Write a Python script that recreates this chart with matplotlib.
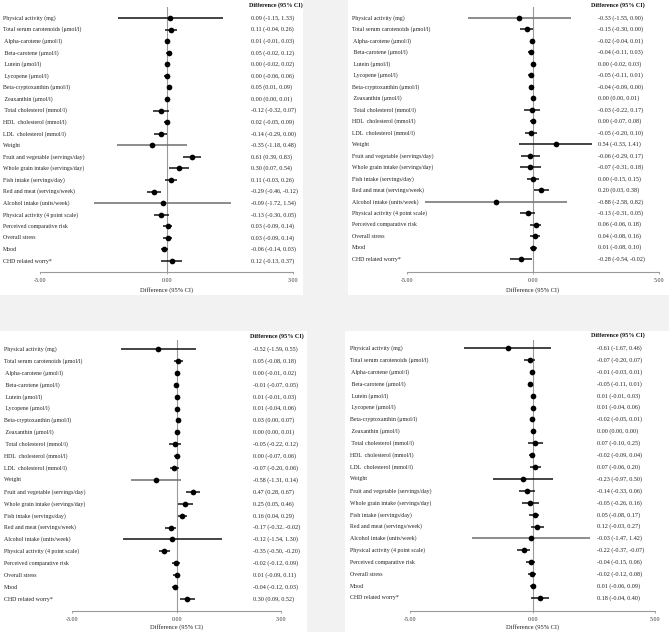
import matplotlib
matplotlib.use("Agg")
import matplotlib.pyplot as plt
from matplotlib import transforms
from matplotlib.patches import Rectangle

# ---------------- data ----------------
labels = [
    "Physical activity (mg)",
    "Total serum carotenoids (\u03bcmol/l)",
    " Alpha-carotene (\u03bcmol/l)",
    " Beta-carotene (\u03bcmol/l)",
    " Lutein (\u03bcmol/l)",
    " Lycopene (\u03bcmol/l)",
    "Beta-cryptoxanthin (\u03bcmol/l)",
    " Zeaxanthin (\u03bcmol/l)",
    " Total cholesterol (mmol/l)",
    "HDL  cholesterol (mmol/l)",
    "LDL  cholesterol (mmol/l)",
    "Weight",
    "Fruit and vegetable (servings/day)",
    "Whole grain intake (servings/day)",
    "Fish intake (servings/day)",
    "Red and meat (servings/week)",
    "Alcohol intake (units/week)",
    "Physical activity (4 point scale)",
    "Perceived comparative risk",
    "Overall stress",
    "Mood",
    "CHD related worry*",
]

tl_est = [0.09, 0.11, 0.01, 0.05, 0.00, 0.00, 0.05, 0.00, -0.12, 0.02, -0.14, -0.35,
          0.61, 0.30, 0.11, -0.29, -0.09, -0.13, 0.03, 0.03, -0.06, 0.12]
tl_lo = [-1.15, -0.04, -0.01, -0.02, -0.02, -0.06, 0.01, 0.00, -0.32, -0.05, -0.29, -1.18,
         0.39, 0.07, -0.03, -0.46, -1.72, -0.30, -0.09, -0.09, -0.14, -0.13]
tl_hi = [1.33, 0.26, 0.03, 0.12, 0.02, 0.06, 0.09, 0.01, 0.07, 0.09, 0.00, 0.48,
         0.83, 0.54, 0.26, -0.12, 1.54, 0.05, 0.14, 0.14, 0.03, 0.37]

tr_est = [-0.33, -0.15, -0.02, -0.04, 0.00, -0.05, -0.04, 0.00, -0.03, 0.00, -0.05, 0.54,
          -0.06, -0.07, 0.00, 0.20, -0.88, -0.13, 0.06, 0.04, 0.01, -0.28]
tr_lo = [-1.55, -0.30, -0.04, -0.11, -0.02, -0.11, -0.09, 0.00, -0.22, -0.07, -0.20, -0.33,
         -0.29, -0.31, -0.15, 0.03, -2.58, -0.31, -0.06, -0.08, -0.08, -0.54]
tr_hi = [0.90, 0.00, 0.01, 0.03, 0.03, 0.01, 0.00, 0.01, 0.17, 0.08, 0.10, 1.41,
         0.17, 0.18, 0.15, 0.38, 0.82, 0.05, 0.18, 0.16, 0.10, -0.02]

bl_est = [-0.52, 0.05, 0.00, -0.01, 0.01, 0.01, 0.03, 0.00, -0.05, 0.00, -0.07, -0.58,
          0.47, 0.25, 0.16, -0.17, -0.12, -0.35, -0.02, 0.01, -0.04, 0.30]
bl_lo = [-1.59, -0.08, -0.01, -0.07, -0.01, -0.04, 0.00, 0.00, -0.22, -0.07, -0.20, -1.31,
         0.28, 0.05, 0.04, -0.32, -1.54, -0.50, -0.12, -0.09, -0.12, 0.09]
bl_hi = [0.55, 0.18, 0.02, 0.05, 0.03, 0.06, 0.07, 0.01, 0.12, 0.06, 0.06, 0.14,
         0.67, 0.46, 0.29, -0.02, 1.30, -0.20, 0.09, 0.11, 0.03, 0.52]

br_est = [-0.61, -0.07, -0.01, -0.05, 0.01, 0.01, -0.02, 0.00, 0.07, -0.02, 0.07, -0.23,
          -0.14, -0.05, 0.05, 0.12, -0.03, -0.22, -0.04, -0.02, 0.01, 0.18]
br_lo = [-1.67, -0.20, -0.03, -0.11, -0.01, -0.04, -0.05, 0.00, -0.10, -0.09, -0.06, -0.97,
         -0.33, -0.26, -0.08, -0.03, -1.47, -0.37, -0.15, -0.12, -0.06, -0.04]
br_hi = [0.46, 0.07, 0.01, 0.01, 0.03, 0.06, 0.01, 0.00, 0.25, 0.04, 0.20, 0.50,
         0.06, 0.16, 0.17, 0.27, 1.42, -0.07, 0.06, 0.08, 0.09, 0.40]

tick_vals = [-3, 0, 3]
left_ticklabels = ["-3.00", "0.00", "3.00"]
right_ticklabels = ["-5.00", "0.00", "5.00"]
header = "Difference (95% CI)"
xlabel = "Difference (95% CI)"

# ---------------- layout (pixels) ----------------
W, H = 669, 632
fig = plt.figure(figsize=(W / 100, H / 100), dpi=100, facecolor="#f2f2f2")

FONT = "Liberation Serif"
LAB_FS = 4.2
VAL_FS = 4.4

panels = [
    dict(est=tl_est, lo=tl_lo, hi=tl_hi, ticks=left_ticklabels,
         rect=(0, 0, 303, 295), ax_x=(40, 293), row0=18, row21=261, axis_y=272, top_y=7,
         lab_x=3, val_x=251, head=(276, 5), xl_y=290, grey=[11, 16, 7]),
    dict(est=tr_est, lo=tr_lo, hi=tr_hi, ticks=right_ticklabels,
         rect=(348, 0, 669, 295), ax_x=(407, 659), row0=18, row21=259, axis_y=272, top_y=7,
         lab_x=352, val_x=598, head=(618, 5), xl_y=290, grey=[0, 16]),
    dict(est=bl_est, lo=bl_lo, hi=bl_hi, ticks=left_ticklabels,
         rect=(0, 331, 307, 632), ax_x=(72, 281), row0=349, row21=599, axis_y=611, top_y=340,
         lab_x=4, val_x=253, head=(277, 336), xl_y=627, grey=[11]),
    dict(est=br_est, lo=br_lo, hi=br_hi, ticks=right_ticklabels,
         rect=(345, 331, 669, 632), ax_x=(410, 655), row0=348, row21=598, axis_y=611, top_y=340,
         lab_x=350, val_x=597, head=(618, 335), xl_y=627, grey=[16]),
]

for p in panels:
    x0, y0, x1, y1 = p["rect"]
    fig.patches.append(Rectangle((x0 / W, 1 - y1 / H), (x1 - x0) / W, (y1 - y0) / H,
                                 transform=fig.transFigure, facecolor="white",
                                 edgecolor="none", zorder=-10))
    ax_l, ax_r = p["ax_x"]
    ax = fig.add_axes([ax_l / W, 1 - p["axis_y"] / H, (ax_r - ax_l) / W,
                       (p["axis_y"] - p["top_y"]) / H])
    ax.set_zorder(5)
    ax.patch.set_alpha(0)
    sp = (p["row21"] - p["row0"]) / 21.0
    ax.set_xlim(-3, 3)
    ax.set_ylim((p["axis_y"] - p["row0"]) / sp, (p["top_y"] - p["row0"]) / sp)
    for s in ["left", "right", "top"]:
        ax.spines[s].set_visible(False)
    ax.spines["bottom"].set_color("#9a9a9a")
    ax.spines["bottom"].set_linewidth(0.8)
    ax.set_yticks([])
    ax.set_xticks(tick_vals)
    ax.set_xticklabels(p["ticks"], fontsize=4.3, family=FONT, color="#333333")
    ax.tick_params(axis="x", length=1.5, width=0.6, color="#9a9a9a", pad=3)
    ax.axvline(0, color="#9a9a9a", lw=0.8, zorder=1)

    rows = list(range(len(labels)))
    for i in rows:
        c = "#6e6e6e" if i in p["grey"] else "#111111"
        ax.plot([p["lo"][i], p["hi"][i]], [i, i], color=c, lw=1.1, zorder=2,
                solid_capstyle="butt")
        ax.plot(p["est"][i], i, "o", color="black", ms=4.1, mew=0, zorder=3)

    tr = transforms.blended_transform_factory(fig.transFigure, ax.transData)
    for i, lab in enumerate(labels):
        ax.text(p["lab_x"] / W, i, lab, transform=tr, va="center", ha="left",
                fontsize=LAB_FS, family=FONT, color="#222222", clip_on=False)
        ax.text(p["val_x"] / W, i,
                f"{p['est'][i]:.2f} ({p['lo'][i]:.2f}, {p['hi'][i]:.2f})",
                transform=tr, va="center", ha="left", fontsize=VAL_FS, family=FONT,
                color="#222222", clip_on=False)
    hx, hy = p["head"]
    fig.text(hx / W, 1 - hy / H, header, ha="center", va="center", fontsize=4.4,
             family=FONT, weight="bold", color="#111111")
    fig.text(((ax_l + ax_r) / 2) / W, 1 - p["xl_y"] / H, xlabel, ha="center",
             va="center", fontsize=4.6, family=FONT, color="#222222")

fig.savefig("out.png", dpi=100, facecolor=fig.get_facecolor())
